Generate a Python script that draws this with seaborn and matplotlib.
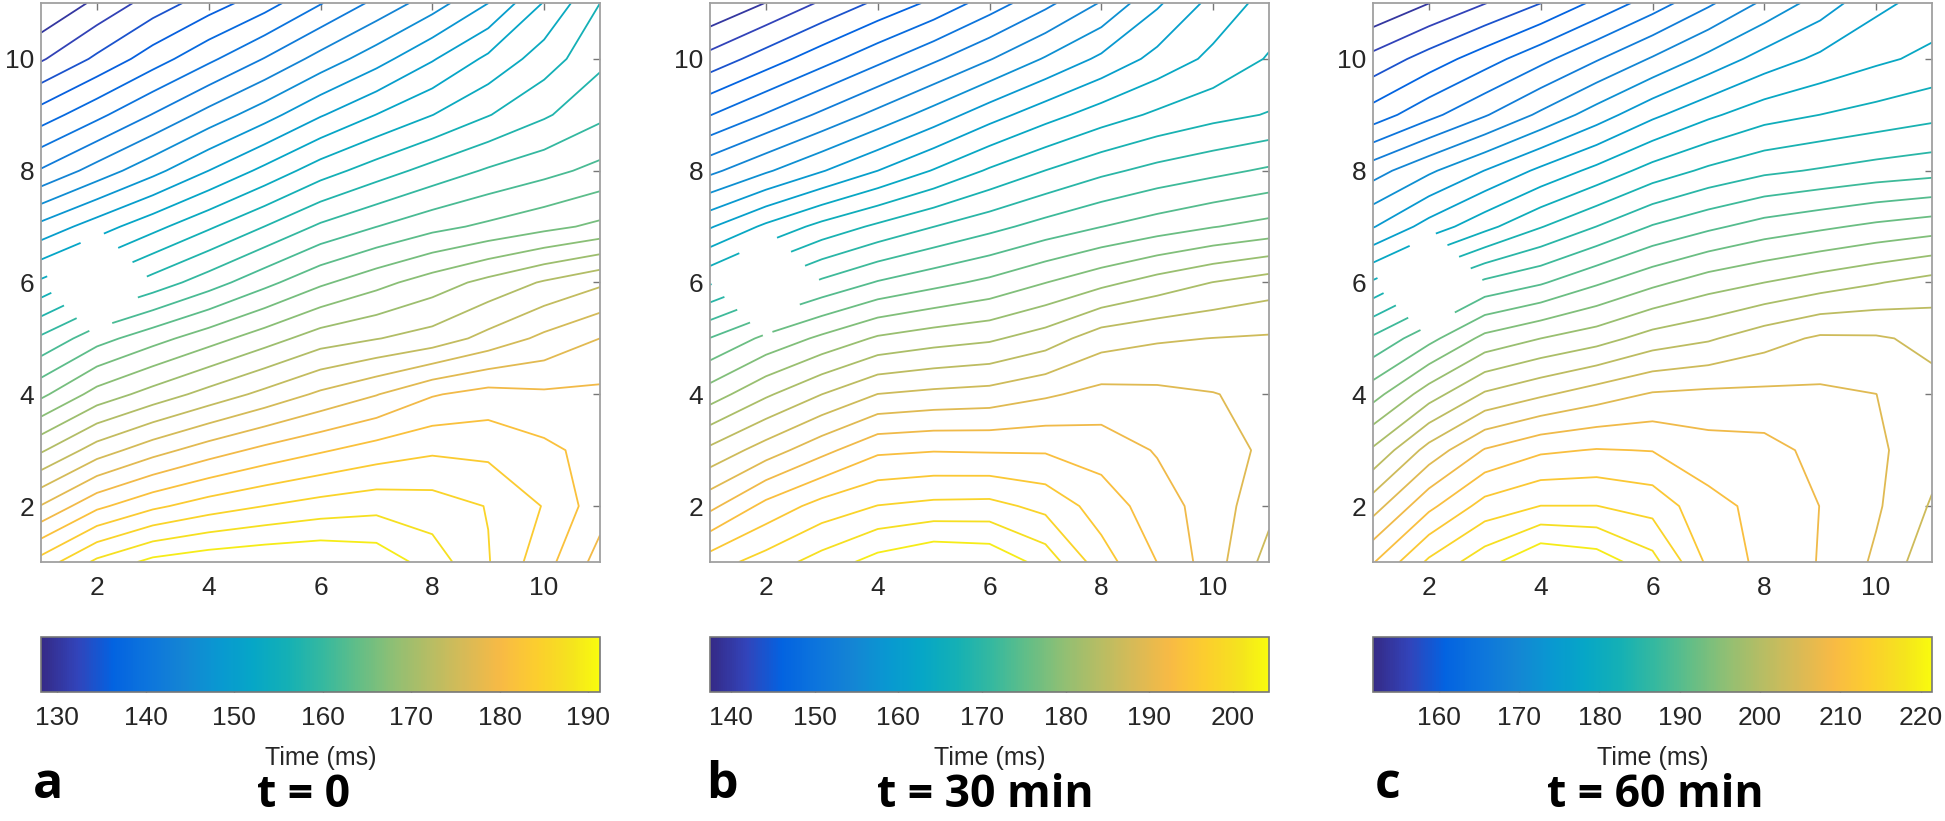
import numpy as np
import matplotlib
matplotlib.use("Agg")
import matplotlib.pyplot as plt
import seaborn as sns
from matplotlib import colors as mcolors
from matplotlib.cm import ScalarMappable

# electrode positions on the array (1..11 in both directions)
x_elec = np.arange(1, 12)
y_elec = np.arange(11, 0, -1)  # rows of the grids below run from top (y=11) to bottom (y=1)

nan = np.nan
# activation times (ms); electrode (2,6) is missing
time_t0 = [
    [128.2, 130.6, 133.0, 135.1, 137.2, 139.9, 142.5, 145.0, 147.9, 152.0, 155.8],
    [131.9, 134.5, 137.1, 139.6, 142.1, 144.7, 147.1, 149.7, 152.3, 154.8, 157.3],
    [137.0, 139.5, 142.1, 144.7, 147.1, 149.7, 151.9, 153.8, 155.7, 157.5, 159.3],
    [142.2, 144.8, 147.3, 149.9, 152.4, 154.9, 156.8, 158.5, 160.0, 161.1, 162.3],
    [148.5, 150.9, 153.2, 155.5, 157.8, 160.1, 161.7, 163.1, 164.1, 165.1, 166.1],
    [154.2, nan, 158.6, 160.8, 163.1, 165.3, 167.0, 168.6, 170.2, 171.8, 173.2],
    [160.1, 162.9, 164.9, 166.8, 168.7, 170.6, 171.5, 172.4, 174.2, 176.0, 177.5],
    [165.2, 168.4, 170.4, 172.3, 174.1, 175.9, 177.4, 179.3, 180.2, 179.8, 179.9],
    [171.3, 174.5, 176.7, 178.5, 180.0, 181.2, 182.3, 183.1, 182.9, 181.9, 180.7],
    [177.6, 181.0, 183.0, 184.4, 185.4, 186.2, 186.7, 186.3, 185.3, 183.3, 180.3],
    [184.2, 187.8, 189.9, 190.7, 191.1, 191.3, 190.7, 188.4, 185.5, 182.2, 178.7],
]
time_t30 = [
    [137.5, 139.7, 142.1, 144.4, 146.6, 149.3, 152.0, 154.9, 158.7, 161.9, 164.2],
    [142.6, 145.0, 147.4, 149.8, 152.2, 154.6, 157.1, 159.5, 161.9, 163.9, 165.7],
    [148.2, 150.6, 153.0, 155.4, 157.8, 160.3, 162.5, 164.4, 165.9, 167.0, 167.8],
    [154.2, 156.6, 158.9, 161.2, 163.5, 165.8, 167.7, 169.3, 170.5, 171.4, 172.3],
    [161.0, 163.8, 166.2, 168.1, 169.8, 171.3, 172.8, 174.1, 175.2, 176.2, 177.0],
    [167.4, nan, 172.4, 174.3, 175.6, 176.8, 178.4, 180.0, 181.5, 182.8, 183.8],
    [174.2, 176.8, 178.9, 180.9, 181.8, 182.4, 183.8, 186.1, 186.8, 187.1, 187.3],
    [179.5, 182.4, 184.9, 187.1, 187.6, 187.9, 188.9, 189.9, 189.7, 189.3, 188.6],
    [185.4, 188.1, 190.7, 193.1, 193.4, 193.3, 193.3, 192.6, 191.2, 190.1, 188.8],
    [190.8, 194.2, 196.5, 197.9, 198.4, 198.5, 197.2, 194.7, 192.4, 190.3, 187.7],
    [196.8, 198.8, 200.9, 203.0, 204.3, 203.9, 201.3, 196.6, 193.5, 190.2, 186.2],
]
time_t60 = [
    [151.8, 154.0, 156.2, 158.5, 161.3, 164.1, 167.1, 170.2, 173.0, 175.9, 177.4],
    [157.0, 159.5, 162.0, 164.6, 167.3, 170.0, 172.7, 175.2, 177.0, 178.3, 179.3],
    [161.8, 164.6, 167.3, 170.2, 173.1, 176.0, 178.3, 180.1, 181.0, 181.8, 182.6],
    [168.8, 171.6, 174.3, 177.0, 179.4, 181.9, 183.7, 185.0, 185.7, 186.4, 186.9],
    [174.1, 177.4, 180.3, 183.1, 185.5, 187.9, 189.5, 190.9, 191.8, 192.7, 193.4],
    [181.3, nan, 188.2, 189.7, 191.9, 193.9, 195.6, 196.7, 197.8, 198.8, 199.8],
    [188.1, 191.5, 195.1, 196.7, 198.0, 199.9, 200.9, 202.5, 203.8, 203.7, 202.9],
    [193.6, 197.9, 201.5, 203.1, 204.6, 205.9, 206.2, 206.2, 206.1, 205.7, 204.1],
    [199.3, 204.3, 208.1, 209.8, 210.3, 210.1, 208.9, 208.7, 207.3, 206.1, 204.3],
    [204.7, 209.6, 213.3, 214.7, 214.7, 213.8, 210.9, 209.5, 207.9, 206.0, 203.2],
    [210.0, 215.1, 218.3, 221.4, 220.5, 217.7, 211.9, 209.5, 207.8, 205.3, 201.9],
]

maps = [time_t0, time_t30, time_t60]
n_lines = [31, 30, 30]
cbar_ticks = [[130, 140, 150, 160, 170, 180, 190],
              [140, 150, 160, 170, 180, 190, 200],
              [160, 170, 180, 190, 200, 210, 220]]
panel_letters = ["a", "b", "c"]
panel_titles = ["t = 0", "t = 30 min", "t = 60 min"]

# MATLAB parula
parula_rgb = [
    (0.2081, 0.1663, 0.5292), (0.1959, 0.2645, 0.7279), (0.0117, 0.3875, 0.8820),
    (0.0498, 0.4586, 0.8641), (0.0793, 0.5200, 0.8312), (0.0343, 0.5966, 0.8199),
    (0.0228, 0.6535, 0.7768), (0.0843, 0.6928, 0.7062), (0.2178, 0.7250, 0.6193),
    (0.3953, 0.7459, 0.5244), (0.5709, 0.7485, 0.4494), (0.7184, 0.7411, 0.3905),
    (0.8507, 0.7299, 0.3360), (0.9739, 0.7314, 0.2666), (0.9880, 0.8066, 0.1794),
    (0.9589, 0.8949, 0.1132), (0.9763, 0.9831, 0.0538),
]
pos = [0, 4, 8, 12, 16, 20, 24, 28, 32, 36, 40, 44, 48, 52, 56, 60, 63]
parula = mcolors.LinearSegmentedColormap.from_list(
    "parula", [(p / 63, c) for p, c in zip(pos, parula_rgb)])

sns.set_theme(style="white")
plt.rcParams["font.family"] = ["Liberation Sans", "DejaVu Sans"]

W, H = 1945, 821
fig = plt.figure(figsize=(W / 100, H / 100), dpi=100)

lefts = [41, 710, 1373]
side = 559
title_x = [304, 985, 1655]
letter_x = [48, 722, 1388]
txt = "#262626"

for i in range(3):
    Z = np.array(maps[i], dtype=float)[::-1]
    yy = y_elec[::-1]
    zmin, zmax = np.nanmin(Z), np.nanmax(Z)
    levels = np.linspace(zmin, zmax, n_lines[i] + 2)[1:-1]

    ax = fig.add_axes([lefts[i] / W, (H - 562) / H, side / W, side / H])
    ax.contour(x_elec, yy, np.ma.masked_invalid(Z), levels=levels, cmap=parula,
               vmin=zmin, vmax=zmax, linewidths=1.3, corner_mask=True)
    ax.set_xlim(1, 11)
    ax.set_ylim(1, 11)
    ax.set_xticks([2, 4, 6, 8, 10])
    ax.set_yticks([2, 4, 6, 8, 10])
    ax.tick_params(direction="in", top=True, right=True, length=5, width=1,
                   color="#777777", labelsize=19, labelcolor=txt, pad=10)
    ax.tick_params(axis="y", pad=5)
    for s in ax.spines.values():
        s.set_color("#a0a0a0")
        s.set_linewidth(1.3)

    cax = fig.add_axes([lefts[i] / W, (H - 692) / H, side / W, 55 / H])
    sm = ScalarMappable(norm=mcolors.Normalize(zmin, zmax), cmap=parula)
    cb = fig.colorbar(sm, cax=cax, orientation="horizontal", ticks=cbar_ticks[i])
    cb.ax.tick_params(direction="in", length=5, width=1, color="#444444",
                      labelsize=19, labelcolor=txt, pad=10)
    cb.outline.set_edgecolor("#777777")
    cb.outline.set_linewidth(1.2)

    cx = (lefts[i] + side / 2) / W
    fig.text(cx, (H - 758) / H, "Time (ms)", ha="center", va="center",
             fontsize=18, color=txt)
    fig.text(letter_x[i] / W, (H - 798) / H, panel_letters[i], ha="center",
             va="baseline", fontsize=36, fontweight="bold", color="black",
             family=["Open Sans", "DejaVu Sans"])
    fig.text(title_x[i] / W, (H - 807) / H, panel_titles[i], ha="center",
             va="baseline", fontsize=32, fontweight="bold", color="black",
             family=["Open Sans", "DejaVu Sans"])

fig.savefig("out.png", dpi=100, facecolor="white")
